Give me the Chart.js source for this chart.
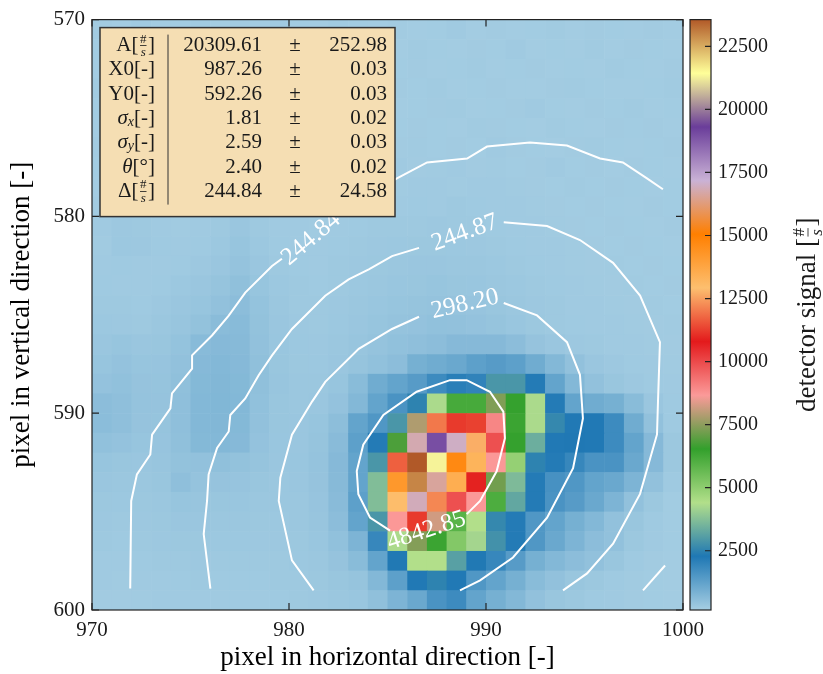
<!DOCTYPE html>
<html>
<head>
<meta charset="utf-8">
<script src="https://cdn.jsdelivr.net/npm/chart.js@4.4.1/dist/chart.umd.min.js"></script>
<style>
  html, body { margin: 0; padding: 0; background: #fff; }
  #wrap { width: 823px; height: 674px; }
</style>
</head>
<body>
<div id="wrap"><canvas id="chart" width="823" height="674"></canvas></div>
<script>
// axes
const xRange = [970, 1000];
const yRange = [570, 600];
const xTicks = [970, 980, 990, 1000];
const yTicks = [570, 580, 590, 600];

// colour bar
const cbRange = [150, 23560];
const cbTicks = [2500, 5000, 7500, 10000, 12500, 15000, 17500, 20000, 22500];
const pairedColors = ['#a6cee3', '#1f78b4', '#b2df8a', '#33a02c', '#fb9a99', '#e31a1c',
                      '#fdbf6f', '#ff7f00', '#cab2d6', '#6a3d9a', '#ffff99', '#b15928'];

// detector signal, one row per vertical pixel (570 at the top), one column per horizontal pixel
const signal = [
  [220,200,240,190,210,230,180,220,200,250,210,190,230,210,200,220,190,210,240,200,220,190,210,230,200,220,210,190,220,200],
  [210,230,190,220,200,210,240,190,220,210,200,230,190,220,210,200,230,210,190,220,210,240,200,210,190,230,200,220,210,190],
  [200,210,230,200,220,190,210,230,200,220,240,210,200,190,230,210,220,200,210,230,200,210,220,190,210,200,230,210,200,220],
  [230,190,210,240,200,220,210,200,230,190,210,220,240,210,200,220,210,230,200,210,220,200,190,220,230,210,200,190,210,230],
  [210,220,200,210,230,200,220,250,210,200,220,190,210,230,220,200,210,220,230,200,210,220,240,210,200,220,210,230,200,210],
  [190,210,230,200,210,240,200,220,210,230,200,220,210,200,230,210,220,210,200,230,220,210,200,230,210,200,220,210,220,200],
  [220,200,210,230,220,210,230,260,220,210,230,210,220,240,210,220,230,210,220,210,240,220,210,200,220,230,210,200,210,220],
  [210,230,220,210,200,230,240,280,230,220,210,230,220,210,230,240,220,230,240,220,230,210,220,240,210,220,200,220,210,200],
  [200,220,210,240,220,210,260,290,240,230,220,210,240,230,220,230,250,240,230,250,240,230,220,210,230,210,220,210,200,210],
  [220,210,230,220,240,250,280,320,260,240,230,220,230,240,250,240,260,250,270,260,250,240,230,220,210,220,210,200,220,210],
  [240,290,280,250,230,240,270,340,280,250,240,230,250,260,270,280,280,290,280,270,260,250,240,230,220,210,220,210,200,220],
  [230,300,290,260,240,260,300,380,300,260,250,240,260,280,290,300,310,310,300,290,280,260,250,240,230,220,210,220,210,200],
  [250,260,250,240,260,290,340,420,340,280,260,250,270,290,310,320,340,340,330,320,300,280,260,250,230,220,230,210,220,210],
  [260,250,240,260,300,340,400,500,380,300,270,260,280,300,330,350,360,380,360,350,330,300,280,260,240,230,220,230,210,220],
  [280,270,260,290,340,380,470,560,430,320,280,270,290,320,350,380,400,420,410,390,360,320,290,270,250,240,230,220,230,210],
  [300,290,280,320,370,450,590,620,450,340,290,280,300,340,380,420,440,480,460,440,400,350,310,280,260,250,240,230,220,230],
  [340,380,340,360,430,620,660,640,470,350,300,290,320,370,420,480,520,560,660,660,660,560,410,340,290,270,250,240,230,220],
  [380,440,380,390,470,660,700,660,490,360,310,300,340,400,480,560,900,1000,1100,1300,1400,1300,1000,700,460,340,290,260,240,230],
  [440,480,410,400,490,680,720,680,490,370,320,320,380,600,1000,1200,1400,1800,2100,2000,2900,2900,2200,1200,700,460,360,290,260,240],
  [560,520,420,410,510,700,730,700,480,360,330,340,440,700,1200,1600,2500,4300,6200,6200,7350,6500,4300,2200,1200,1000,900,600,340,260],
  [580,520,410,400,510,700,720,680,460,360,340,380,540,1200,1500,2900,7850,12000,11200,11300,9000,6400,4300,2600,2250,2250,1800,1000,460,260],
  [480,440,380,390,490,680,700,660,440,350,340,400,610,1300,2200,6800,16800,19000,17000,12700,9900,6500,3400,2250,2270,2250,1800,1200,660,310],
  [380,360,340,370,450,470,490,450,400,340,350,420,660,1200,2900,11700,23560,21300,14700,13300,8700,4900,2500,2200,1900,1600,1600,1100,660,310],
  [340,320,330,360,510,420,410,390,360,330,340,410,640,1200,3700,14200,23000,16600,13500,10900,7200,3650,2200,1650,1500,1200,1100,800,460,260],
  [310,300,310,330,380,370,360,350,330,320,330,390,610,1300,3700,13000,16900,12200,9900,8700,6100,3250,2200,1600,1400,1100,800,460,310,210],
  [290,280,290,310,340,340,330,320,310,300,320,370,560,1200,2900,8700,11200,8200,5900,4400,2600,2200,1500,1200,900,700,460,360,260,210],
  [270,260,270,290,310,310,300,300,290,290,310,350,480,800,1900,4300,7400,6400,5200,4200,2800,2200,1500,1100,800,560,460,310,240,210],
  [250,250,260,270,280,290,280,280,270,280,300,330,410,600,1200,2300,4400,4400,3100,2300,1900,1400,900,700,560,460,360,260,220,200],
  [240,230,240,250,260,270,260,260,260,270,280,310,360,400,700,1300,2250,2500,2250,1500,1200,900,600,460,360,310,260,230,210,200],
  [220,220,230,240,250,250,240,250,250,260,270,290,320,350,500,800,1100,1600,1800,1200,900,700,460,360,310,260,240,220,210,200]
];

// contour lines (data coordinates); gaps are left where the labels sit
const outerLowX = [971.94, 971.99, 972.28, 972.96, 973.05, 973.98, 974.06, 975.08, 975.08, 976.09, 976.94, 977.78, 979.14, 979.64];
const outerLowY = [598.91, 594.46, 593.11, 592.10, 591.09, 589.75, 588.99, 587.73, 587.06, 586.05, 585.04, 583.87, 582.52, 582.15];
const outerTopX = [982.6, 983.6, 985.48, 987.01, 989.04, 990.05, 992.23, 994.11, 995.79, 996.95, 998.17, 998.98];
const outerTopY = [579.9, 579.2, 578.07, 577.26, 577.06, 576.45, 576.25, 576.40, 577.06, 577.26, 578.07, 578.62];
const outerCornerX = [997.97, 999.09];
const outerCornerY = [599.0, 597.74];
const secondLowX = [976.01, 975.67, 975.84, 975.92, 976.35, 976.94, 977.02, 977.78, 978.46, 979.14, 980.15, 981.84, 983.03, 984.05, 985.23, 986.6];
const secondLowY = [598.91, 596.14, 594.46, 593.11, 591.77, 590.93, 590.09, 589.25, 588.07, 587.06, 585.72, 584.03, 583.20, 582.69, 582.02, 581.6];
const secondHighX = [990.9, 993.10, 994.77, 996.45, 997.82, 998.83, 998.73, 998.68, 997.82, 996.45, 995.13, 993.91];
const secondHighY = [580.30, 580.49, 581.20, 582.36, 584.02, 586.39, 589.42, 591.08, 594.10, 596.63, 598.14, 599.0];
const thirdLowX = [981.25, 980.15, 979.48, 979.56, 980.15, 981.17, 981.84, 983.54, 985.23, 986.6];
const thirdLowY = [599.0, 597.48, 594.46, 593.28, 591.09, 589.41, 588.41, 586.73, 585.72, 585.1];
const thirdHighX = [990.9, 992.59, 994.11, 994.77, 994.92, 994.42, 993.10, 991.37, 989.70, 988.68];
const thirdHighY = [584.4, 585.03, 586.39, 588.05, 590.27, 592.79, 595.31, 597.33, 598.49, 599.0];
const innerX = [985.13, 984.11, 983.52, 983.44, 983.77, 984.79, 986.48, 988.17, 989.02, 990.20, 990.88, 990.96, 990.54, 989.70, 989.02];
const innerY = [595.97, 595.30, 594.12, 592.94, 591.60, 590.09, 588.91, 588.32, 588.32, 588.91, 589.92, 591.27, 592.95, 594.46, 595.13];

// contour labels
const contourLevels = ['244.84', '244.87', '298.20', '4842.85'];
const levelX = [981.12, 988.93, 988.93, 986.98];
const levelY = [581.14, 580.83, 584.46, 595.97];
const levelAngle = [-40, -20, -13, -18];

// fit results shown in the box
const paramNames = ['A', 'X0', 'Y0', 'sx', 'sy', 'theta', 'D'];
const paramValues = ['20309.61', '987.26', '592.26', '1.81', '2.59', '2.40', '244.84'];
const paramErrors = ['252.98', '0.03', '0.03', '0.02', '0.03', '0.02', '24.58'];

const serif = '"Liberation Serif", "DejaVu Serif", serif';
const textColor = '#1a1a1a';

const pairedRGB = pairedColors.map(h => [1, 3, 5].map(i => parseInt(h.slice(i, i + 2), 16)));

// continuous version of the Paired palette
const colormap = (v) => {
  let t = (v - cbRange[0]) / (cbRange[1] - cbRange[0]);
  t = Math.min(1, Math.max(0, t)) * (pairedRGB.length - 1);
  const i = Math.min(Math.floor(t), pairedRGB.length - 2);
  const f = t - i;
  const a = pairedRGB[i], b = pairedRGB[i + 1];
  return `rgb(${a.map((c, k) => Math.round(c + (b[k] - c) * f)).join(',')})`;
};

// draws a row of text pieces, ending at xRight; a piece may be a small #/s fraction
const drawParts = (ctx, parts, xRight, yMid, size) => {
  const small = Math.round(size * 0.62);
  const widths = parts.map(p => {
    if (p.frac) {
      ctx.font = `${small}px ${serif}`;
      return Math.max(ctx.measureText(p.frac[0]).width, ctx.measureText(p.frac[1]).width) + 3;
    }
    ctx.font = p.font || `${size}px ${serif}`;
    return ctx.measureText(p.t).width;
  });
  let x = xRight - widths.reduce((a, b) => a + b, 0);
  ctx.textBaseline = 'middle';
  parts.forEach((p, i) => {
    const w = widths[i];
    if (p.frac) {
      ctx.textAlign = 'center';
      ctx.font = `${small}px ${serif}`;
      ctx.fillText(p.frac[0], x + w / 2, yMid - small * 0.5);
      ctx.font = `italic ${small}px ${serif}`;
      ctx.fillText(p.frac[1], x + w / 2, yMid + small * 0.55);
      ctx.fillRect(x + 1.5, yMid - 0.4, w - 3, 0.8);
    } else {
      ctx.textAlign = 'left';
      ctx.font = p.font || `${size}px ${serif}`;
      ctx.fillText(p.t, x, yMid + (p.dy || 0));
    }
    x += w;
  });
  return widths.reduce((a, b) => a + b, 0);
};

const paramLabel = (name, size) => {
  const it = `italic ${size}px ${serif}`;
  const sub = `italic ${Math.round(size * 0.68)}px ${serif}`;
  switch (name) {
    case 'A': return [{ t: 'A[' }, { frac: ['#', 's'] }, { t: ']' }];
    case 'D': return [{ t: 'Δ[' }, { frac: ['#', 's'] }, { t: ']' }];
    case 'sx': return [{ t: 'σ', font: it }, { t: 'x', font: sub, dy: 4 }, { t: '[-]' }];
    case 'sy': return [{ t: 'σ', font: it }, { t: 'y', font: sub, dy: 4 }, { t: '[-]' }];
    case 'theta': return [{ t: 'θ', font: it }, { t: '[°]' }];
    default: return [{ t: name + '[-]' }];
  }
};

// heat map cells, drawn through the x / y scales
const heatmapPlugin = {
  id: 'heatmap',
  beforeDatasetsDraw(chart) {
    const { ctx, chartArea, scales: { x, y } } = chart;
    ctx.save();
    ctx.beginPath();
    ctx.rect(chartArea.left, chartArea.top, chartArea.right - chartArea.left, chartArea.bottom - chartArea.top);
    ctx.clip();
    signal.forEach((row, r) => {
      row.forEach((v, c) => {
        const x0 = x.getPixelForValue(xRange[0] + c);
        const x1 = x.getPixelForValue(xRange[0] + c + 1);
        const y0 = y.getPixelForValue(yRange[0] + r);
        const y1 = y.getPixelForValue(yRange[0] + r + 1);
        ctx.fillStyle = colormap(v);
        ctx.fillRect(x0, y0, x1 - x0 + 0.6, y1 - y0 + 0.6);
      });
    });
    ctx.restore();
  }
};

// contour labels, frame, inward ticks, colour bar and the fit box
const decorPlugin = {
  id: 'decor',
  afterDatasetsDraw(chart) {
    const { ctx, chartArea: area, scales: { x, y, cb } } = chart;
    ctx.save();

    // contour labels
    ctx.fillStyle = '#ffffff';
    ctx.font = `25px ${serif}`;
    ctx.textAlign = 'center';
    ctx.textBaseline = 'middle';
    contourLevels.forEach((txt, i) => {
      ctx.save();
      ctx.translate(x.getPixelForValue(levelX[i]), y.getPixelForValue(levelY[i]));
      ctx.rotate(levelAngle[i] * Math.PI / 180);
      ctx.fillText(txt, 0, 0);
      ctx.restore();
    });

    // frame + ticks pointing inwards
    ctx.strokeStyle = '#222';
    ctx.lineWidth = 1.2;
    ctx.strokeRect(area.left, area.top, area.right - area.left, area.bottom - area.top);
    ctx.beginPath();
    xTicks.forEach(v => {
      const px = x.getPixelForValue(v);
      ctx.moveTo(px, area.bottom); ctx.lineTo(px, area.bottom - 7);
      ctx.moveTo(px, area.top); ctx.lineTo(px, area.top + 7);
    });
    yTicks.forEach(v => {
      const py = y.getPixelForValue(v);
      ctx.moveTo(area.left, py); ctx.lineTo(area.left + 7, py);
      ctx.moveTo(area.right, py); ctx.lineTo(area.right - 7, py);
    });
    ctx.stroke();

    // colour bar
    const barL = area.right + 7, barR = area.right + 28;
    const barTop = cb.getPixelForValue(cbRange[1]);
    const barBottom = cb.getPixelForValue(cbRange[0]);
    const grad = ctx.createLinearGradient(0, barBottom, 0, barTop);
    pairedColors.forEach((c, i) => grad.addColorStop(i / (pairedColors.length - 1), c));
    ctx.fillStyle = grad;
    ctx.fillRect(barL, barTop, barR - barL, barBottom - barTop);
    ctx.strokeRect(barL, barTop, barR - barL, barBottom - barTop);
    ctx.beginPath();
    cbTicks.forEach(v => {
      const py = cb.getPixelForValue(v);
      ctx.moveTo(barR, py); ctx.lineTo(barR - 6, py);
    });
    ctx.stroke();

    // colour bar title, reading upwards
    ctx.save();
    ctx.translate(808, (area.top + area.bottom) / 2);
    ctx.rotate(-Math.PI / 2);
    ctx.fillStyle = textColor;
    const cbTitle = [{ t: 'detector signal [' }, { frac: ['#', 's'] }, { t: ']' }];
    ctx.globalAlpha = 0;
    const w = drawParts(ctx, cbTitle, 0, 0, 27);
    ctx.globalAlpha = 1;
    drawParts(ctx, cbTitle, w / 2, 0, 27);
    ctx.restore();

    // fit result box
    const boxL = area.left + 8, boxT = area.top + 8, boxR = area.left + 303, boxB = area.top + 197;
    ctx.fillStyle = '#f5deb3';
    ctx.fillRect(boxL, boxT, boxR - boxL, boxB - boxT);
    ctx.strokeStyle = '#333';
    ctx.lineWidth = 1.5;
    ctx.strokeRect(boxL, boxT, boxR - boxL, boxB - boxT);
    ctx.lineWidth = 1;
    ctx.beginPath();
    ctx.moveTo(boxL + 68, boxT + 7);
    ctx.lineTo(boxL + 68, boxB - 12);
    ctx.stroke();

    ctx.fillStyle = textColor;
    const size = 21;
    paramNames.forEach((name, i) => {
      const yMid = boxT + 18 + i * 24.3;
      drawParts(ctx, paramLabel(name, size), boxL + 55, yMid, size);
      ctx.font = `${size}px ${serif}`;
      ctx.textBaseline = 'middle';
      ctx.textAlign = 'right';
      ctx.fillText(paramValues[i], boxL + 162, yMid);
      ctx.textAlign = 'center';
      ctx.fillText('±', boxL + 195, yMid);
      ctx.textAlign = 'right';
      ctx.fillText(paramErrors[i], boxL + 287, yMid);
    });
    ctx.restore();
  }
};

const segment = (xs, ys) => ({
  data: xs.map((v, i) => ({ x: v, y: ys[i] })),
  showLine: true,
  borderColor: '#ffffff',
  borderWidth: 2,
  pointRadius: 0,
  tension: 0,
  fill: false
});

const tickFont = { family: serif, size: 21 };
const titleFont = { family: serif, size: 27 };
const plainLabel = v => String(v);

new Chart(document.getElementById('chart'), {
  type: 'scatter',
  data: {
    datasets: [
      segment(outerLowX, outerLowY),
      segment(outerTopX, outerTopY),
      segment(outerCornerX, outerCornerY),
      segment(secondLowX, secondLowY),
      segment(secondHighX, secondHighY),
      segment(thirdLowX, thirdLowY),
      segment(thirdHighX, thirdHighY),
      segment(innerX, innerY)
    ]
  },
  options: {
    responsive: false,
    animation: false,
    events: [],
    layout: { autoPadding: false, padding: { left: 0, top: 15, right: 0, bottom: 0 } },
    plugins: { legend: { display: false }, tooltip: { enabled: false } },
    scales: {
      x: {
        type: 'linear',
        position: 'bottom',
        min: xRange[0],
        max: xRange[1],
        grid: { display: false, drawTicks: false },
        border: { display: false },
        afterBuildTicks: s => { s.ticks = xTicks.map(v => ({ value: v })); },
        afterFit: s => { s.height = 64; },
        ticks: { font: tickFont, color: textColor, padding: 8, maxRotation: 0, autoSkip: false, callback: plainLabel },
        title: { display: true, text: 'pixel in horizontal direction [-]', font: titleFont, color: '#000', padding: { top: 0, bottom: 0 } }
      },
      y: {
        type: 'linear',
        position: 'left',
        reverse: true,
        min: yRange[0],
        max: yRange[1],
        grid: { display: false, drawTicks: false },
        border: { display: false },
        afterBuildTicks: s => { s.ticks = yTicks.map(v => ({ value: v })); },
        afterFit: s => { s.width = 92; },
        ticks: { font: tickFont, color: textColor, padding: 7, callback: plainLabel },
        title: { display: true, text: 'pixel in vertical direction [-]', font: titleFont, color: '#000', padding: { top: 6, bottom: 0 } }
      },
      cb: {
        type: 'linear',
        position: 'right',
        min: cbRange[0],
        max: cbRange[1],
        grid: { display: true, drawOnChartArea: false, drawTicks: true, tickLength: 32, color: 'rgba(0,0,0,0)' },
        border: { display: false },
        afterBuildTicks: s => { s.ticks = cbTicks.map(v => ({ value: v })); },
        afterFit: s => { s.width = 140; },
        ticks: { font: { family: serif, size: 20 }, color: textColor, padding: 3, callback: plainLabel }
      }
    }
  },
  plugins: [heatmapPlugin, decorPlugin]
});
</script>
</body>
</html>
